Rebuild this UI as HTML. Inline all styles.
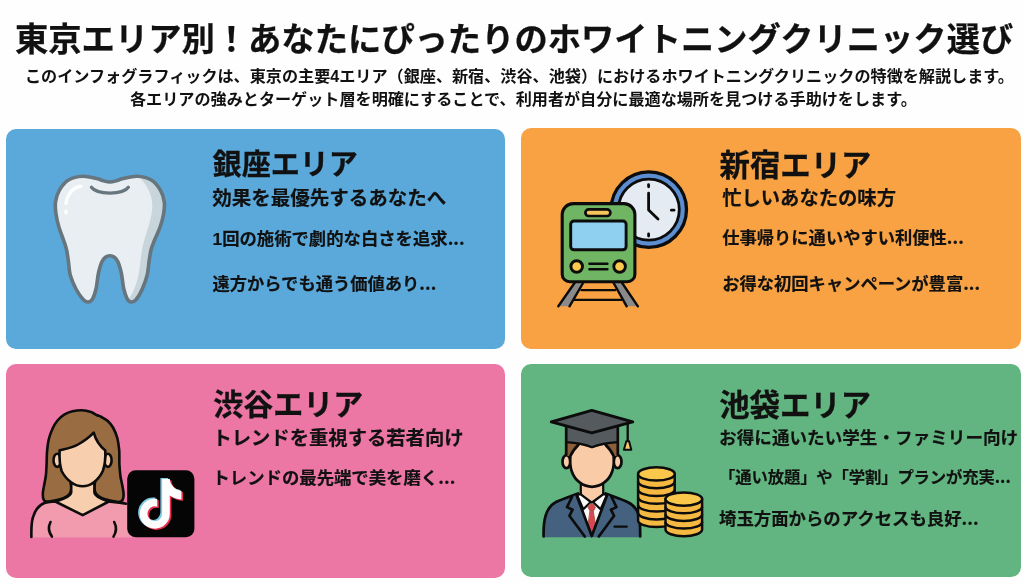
<!DOCTYPE html>
<html lang="ja">
<head>
<meta charset="utf-8">
<title>東京エリア別！あなたにぴったりのホワイトニングクリニック選び</title>
<style>
html,body{margin:0;padding:0;background:#fefefe;}
body{width:1024px;height:584px;background:#fefefe;overflow:hidden;position:relative;
  font-family:"Liberation Sans","Noto Sans CJK JP",sans-serif;color:#111;}
.txt{position:absolute;left:0;top:0;width:1024px;height:584px;will-change:transform;}
.abs{position:absolute;white-space:nowrap;line-height:1;}
h1{margin:0;font-weight:700;font-size:33.3px;left:15px;top:23px;-webkit-text-stroke:0.25px #111;}
.sub{font-weight:700;font-size:16.12px;}
.s1{left:25px;top:68px;}
.s2{left:130px;top:91.3px;}
.panel{position:absolute;border-radius:10px;}
.p1{left:6px;top:128.5px;width:499.4px;height:220.1px;background:#5aa9da;}
.p2{left:521px;top:128.1px;width:499.5px;height:220.5px;background:#f8a244;}
.p3{left:6px;top:364px;width:499.4px;height:213.5px;background:#ec77a4;}
.p4{left:521px;top:364px;width:499.5px;height:213.4px;background:#62b580;}
h2{margin:0;font-weight:700;font-size:29px;-webkit-text-stroke:0.3px #111;}
.tag{font-weight:700;font-size:19.5px;-webkit-text-stroke:0.18px #111;}
.ln{font-weight:700;font-size:17.5px;-webkit-text-stroke:0.18px #111;}
.d{font-family:"Noto Sans CJK JP",sans-serif;line-height:0;letter-spacing:0.1px;}
svg{position:absolute;left:0;top:0;}
</style>
</head>
<body>
<div class="txt">
<h1 class="abs">東京エリア別！あなたにぴったりのホワイトニングクリニック選び</h1>
<div class="abs sub s1">このインフォグラフィックは、東京の主要4エリア（銀座、新宿、渋谷、池袋）におけるホワイトニングクリニックの特徴を解説します。</div>
<div class="abs sub s2">各エリアの強みとターゲット層を明確にすることで、利用者が自分に最適な場所を見つける手助けをします。</div>

</div>
<div class="panel p1"></div>
<div class="panel p2"></div>
<div class="panel p3"></div>
<div class="panel p4"></div>

<svg width="1024" height="584" viewBox="0 0 1024 584" aria-hidden="true">
<defs>
<path id="toothp" d="M109.9 182.0C107.8 182.0 105.7 181.4 103.5 180.8C101.3 180.2 100.0 179.4 96.5 178.6C93.0 177.8 87.2 176.0 82.5 176.2C77.8 176.4 72.4 177.7 68.5 180C64.6 182.3 61.5 186.6 59.3 190.3C57.1 194.0 56.0 198.1 55.5 202C55.0 205.9 55.4 209.8 56.0 214C56.6 218.2 57.6 222.7 58.9 227C60.1 231.3 62.2 236.2 63.5 240C64.8 243.8 65.8 246.3 66.6 250C67.4 253.7 67.9 257.8 68.5 262C69.1 266.2 69.0 270.5 70.2 275C71.5 279.5 73.8 284.9 76.0 289C78.2 293.1 81.2 297.3 83.2 299.5C85.2 301.7 86.4 302.1 88.0 302.0C89.6 301.9 91.3 301.0 92.6 298.8C93.9 296.6 95.0 293.3 96 289C97.0 284.7 97.5 277.5 98.5 273C99.5 268.5 100.6 264.6 101.8 262C103.0 259.4 104.1 258.2 105.4 257.2C106.8 256.2 108.4 255.8 109.9 255.8C111.4 255.8 113.1 256.2 114.4 257.2C115.8 258.2 116.8 259.4 118.0 262C119.2 264.6 120.3 268.5 121.3 273C122.3 277.5 122.8 284.7 123.8 289C124.8 293.3 126.0 296.6 127.2 298.8C128.4 301.0 129.7 301.9 131.2 302.0C132.7 302.1 134.3 301.7 136.2 299.5C138.0 297.3 140.5 293.1 142.3 289C144.1 284.9 146.1 279.5 147.2 275C148.3 270.5 148.4 266.2 149.0 262C149.6 257.8 150.1 253.7 151.0 250C151.9 246.3 153.1 243.8 154.6 240C156.1 236.2 158.6 231.3 160.1 227C161.6 222.7 162.9 218.2 163.6 214C164.3 209.8 164.8 205.9 164.3 202C163.8 198.1 162.7 194.0 160.5 190.3C158.3 186.6 155.2 182.3 151.3 180C147.4 177.7 142.0 176.4 137.3 176.2C132.6 176.0 126.8 177.8 123.3 178.6C119.8 179.4 118.5 180.2 116.3 180.8C114.1 181.4 112.0 182.0 109.9 182.0Z"/>
<clipPath id="toothc"><use href="#toothp"/></clipPath>
</defs>
<g id="tooth">
<use href="#toothp" fill="#e8eef1"/>
<path clip-path="url(#toothc)" d="M135 174 C146 182 152.5 194 152.3 206 C152 220 146 232 143 245 C141 254 140.5 262 139.5 269 C138 279 135 291 128 300 L170 305 L170 170 Z" fill="#c8d6dc"/>
<path d="M81.1 186.2 C73 187 67.5 194 66 203.4" fill="none" stroke="#fdfefe" stroke-width="3.4" stroke-linecap="round"/>
<ellipse cx="66" cy="212" rx="1.9" ry="2.7" fill="#fdfefe"/>
<path d="M91.4 187.3 C97 195 122.8 195 128.4 187.3" fill="none" stroke="#66757e" stroke-width="3.2" stroke-linecap="round"/>
<use href="#toothp" fill="none" stroke="#66757e" stroke-width="3.6" stroke-linejoin="round"/>
</g>
</svg>

<svg width="1024" height="584" viewBox="0 0 1024 584" aria-hidden="true">
<g id="clock">
<circle cx="648.8" cy="209.6" r="37.7" fill="#5b8dd0" stroke="#0c0c0c" stroke-width="3.3"/>
<circle cx="648.8" cy="209.6" r="30.5" fill="#e4ebf2" stroke="#0c0c0c" stroke-width="2.8"/>
<g stroke="#0c0c0c" stroke-width="2.8" stroke-linecap="round" stroke-linejoin="round" fill="none">
<path d="M648.6 184.6V186.800"/>
<path d="M671.400 210.200H674"/>
<path d="M648.600 234V236"/>
<path d="M648.600 193.200V210L658 219.100"/>
</g>
</g>
<g id="rails" stroke="#0c0c0c" stroke-width="2.4" stroke-linejoin="round" stroke-linecap="round">
<path d="M581.300 290.100H615.400M574.400 299.900H621.300" fill="none" stroke-width="2.3"/>
<path d="M575.900 281L558.300 306.300H569.500L584.200 281Z" fill="#8a8a8a" stroke="none"/>
<path d="M612.500 281L626.700 306.300H637.900L620.800 281Z" fill="#8a8a8a" stroke="none"/>
<path d="M575.900 281L558.300 306.300M584.200 281L569.500 306.300M612.500 281L626.700 306.300M620.800 281L637.900 306.300" fill="none"/>
</g>
<g id="train" stroke="#0c0c0c" stroke-linejoin="round" stroke-linecap="round">
<path d="M573.2 203.6H623.9A11 11 0 0 1 634.9 214.6V274.2A7.5 7.5 0 0 1 627.4 281.7H569.7A7.5 7.5 0 0 1 562.2 274.2V214.6A11 11 0 0 1 573.2 203.6Z" fill="#6fb564" stroke-width="3.1"/>
<rect x="585.4" y="209.4" width="25" height="6.6" rx="3.3" fill="#f6c55b" stroke-width="2.7"/>
<rect x="570.7" y="221" width="55.4" height="28.800" rx="3.2" fill="#8fd0f0" stroke-width="2.9"/>
<circle cx="576.7" cy="266.5" r="5.8" fill="#fbc94c" stroke-width="2.9"/>
<circle cx="619.6" cy="266.5" r="5.8" fill="#fbc94c" stroke-width="2.9"/>
<path d="M589.4 263.8H607.4M589.4 269.3H607.4" fill="none" stroke-width="2.5"/>
</g>
</svg>

<svg width="1024" height="584" viewBox="0 0 1024 584" aria-hidden="true">
<g id="woman" stroke="#0c0c0c" stroke-width="2.6" stroke-linejoin="round" stroke-linecap="round">
<path id="hair" d="M82 410.2C78.9 410.1 75.5 410.6 72.5 411.3C69.5 412.0 66.7 413.1 64.2 414.6C61.7 416.1 59.4 418.2 57.5 420.5C55.6 422.8 54.1 425.2 52.6 428.5C51.1 431.8 49.5 436.1 48.6 440C47.7 443.9 47.3 448.0 47 452C46.7 456.0 46.8 460.0 46.6 464C46.4 468.0 46.3 472.2 45.8 476C45.3 479.8 44.3 484.0 43.8 487C43.3 490.0 42.8 491.9 42.8 494C42.8 496.1 43.0 498.2 43.6 499.5C44.2 500.8 44.4 501.5 46.5 501.6C48.6 501.7 53.1 500.9 56 500.3C58.9 499.7 61.8 499.1 64 498C66.2 496.9 68.3 495.7 69.5 494C70.7 492.3 71.0 492.0 71.3 488C71.6 484.0 67.4 473.0 71.3 470C75.2 467.0 90.6 467.0 94.4 470C98.2 473.0 94.1 484.0 94.4 488C94.7 492.0 95.0 492.3 96.2 494C97.4 495.7 99.2 496.9 101.5 498C103.8 499.1 107.1 499.9 110 500.6C112.9 501.3 116.9 502.1 119 502C121.1 501.9 121.8 501.2 122.6 500C123.4 498.8 123.6 496.7 123.6 494.5C123.6 492.3 123.1 490.1 122.6 487C122.1 483.9 120.9 479.8 120.4 476C119.9 472.2 119.6 468.3 119.4 464C119.2 459.7 119.6 454.3 119.2 450C118.8 445.7 118.3 441.8 117.3 438C116.3 434.2 114.6 430.4 113 427.5C111.4 424.6 109.4 422.6 107.5 420.8C105.6 419.1 103.3 418.0 101.5 417C99.7 416.0 98.2 415.8 96.5 415C94.8 414.2 93.4 412.8 91 412C88.6 411.2 85.1 410.3 82 410.2Z" fill="#9a6c42"/>
<path id="shirt" d="M31.4 537.4C31.2 528 31.5 522 32.9 517.5C35 510 39 505 44.5 503C49 501.6 52 502 55.3 501.5L82.7 515.2L108.8 501.5C114 502 120 502.5 126 503.8L132 506V537.4Z" fill="#f29bae" stroke="none"/>
<path d="M71.2 483V492C71.2 495.5 66 498.5 55.3 501.5L82.7 515.2L108.8 501.5C99 498.5 94.4 495.5 94.4 492V483Z" fill="#f8cfae"/>
<path d="M31.4 537C31.2 528 31.5 522 32.9 517.5C35 510 39 505 44.5 503C49 501.6 52 502 55.3 501.5M108.8 501.5C114 502 120 502.5 126 503.8" fill="none"/>
<path d="M50.5 522C48 527 48.6 532 51.9 536.6M114.2 522C116.8 527 116.4 532 113.5 536.6" fill="none"/>
<ellipse cx="57.2" cy="460.3" rx="3.7" ry="6.6" fill="#f8cfae"/>
<ellipse cx="107.9" cy="460.3" rx="3.7" ry="6.6" fill="#f8cfae"/>
<path id="face" d="M59.6 450.3C66 448.8 72 448 78 444.5C85 440.5 90 436.5 93.7 432.6C95.5 439 99 445.5 105.3 450.5C105.6 458 105 465 102.8 471C98.5 480.5 90 486.3 82.7 486.3C75 486.3 66.5 480.5 61.6 471C59.6 465 59.3 457 59.6 450.3Z" fill="#f8cfae"/>
</g>
<g id="tiktok">
<rect x="127.2" y="470.3" width="67.2" height="66.9" rx="8.5" fill="#050505"/>
<g id="note">
<defs><path id="notep" d="M162.100 479h7.700c0.400 6 5 10.800 11.600 11.800v8.600c-4.500-0.100-8.400-1.500-11.600-3.800v18.100a15 15 0 1 1-15-15c0.800 0 1.600 0.050 2.400 0.200v7.900a7.300 7.300 0 1 0 4.900 6.900z"/></defs>
<use href="#notep" fill="#7ecbe6" transform="translate(-1.7 -1.1)"/>
<use href="#notep" fill="#e8304f" transform="translate(1.6 1.3)"/>
<use href="#notep" fill="#fdfdfd"/>
</g>
</g>
</svg>

<svg width="1024" height="584" viewBox="0 0 1024 584" aria-hidden="true">
<g id="grad" stroke="#0c0c0c" stroke-width="2.7" stroke-linejoin="round" stroke-linecap="round">
<!-- suit -->
<path d="M543.6 537.2C543.4 528 544 521 545.7 515.5C548 508 551 504.500 556 502C561 499.500 570 496.500 578 493.500L591.800 500L605.500 493.500C613.500 496.500 622.500 499.500 627.500 502C632.500 504.500 637 508 638.600 515.500C640 521 640.300 528 640.200 537.200Z" fill="#456180" stroke="none"/>
<path d="M543.6 536.5C543.4 528 544 521 545.7 515.5C548 508 551 504.500 556 502C561 499.500 570 496.500 578 493.500M605.500 493.500C613.500 496.500 622.500 499.500 627.500 502C632.500 504.500 637 508 638.600 515.500C640 521 640.300 528 640.200 536.500" fill="none"/>
<!-- shirt -->
<path d="M576.5 494.5L591.8 536L607.5 494.5L591.8 503Z" fill="#fbfbfb" stroke="none"/>
<!-- neck -->
<path d="M580.8 484V494.6L591.8 502.6L603.2 494.6V484Z" fill="#f9cba7" stroke-width="2.2"/>
<!-- collar -->
<path d="M580.4 494.2L577 495L583.3 509.3L590.6 502Z" fill="#fbfbfb" stroke-width="2.2"/>
<path d="M603.4 494.2L607 495L600.6 509.300L593 502Z" fill="#fbfbfb" stroke-width="2.2"/>
<!-- tie -->
<path d="M590.4 510.2H593.1L595.6 525.5L591.75 533.4L588.1 525.5Z" fill="#d9465a" stroke="#a8552a" stroke-width="0.9"/>
<path d="M589.7 504.3H593.8L595.3 507.6L593.6 510.7H589.9L588.2 507.6Z" fill="#d9465a" stroke="#a8552a" stroke-width="0.9"/>
<!-- lapels -->
<path d="M572.2 496.500L567 507.100L572.600 509.700L569.400 515.800L585 536.9H591.8V535.5L576.5 495Z" fill="#456180" stroke="none"/>
<path d="M611.300 496.500L616.500 507.100L610.900 509.700L614.100 515.800L598.600 536.900H591.800V535.500L607.2 495Z" fill="#456180" stroke="none"/>
<path d="M572.200 496.500L567 507.100L572.600 509.700L569.400 515.800L584.800 536.500M611.300 496.500L616.500 507.100L610.900 509.700L614.100 515.800L598.800 536.500M576.600 495.300L591.750 536L607.100 495.300" fill="none"/>
<path d="M614.600 526.600H626.600" fill="none" stroke-width="2.400"/>
<!-- ears -->
<ellipse cx="566.4" cy="461.7" rx="3.9" ry="6.5" fill="#f9cba7"/>
<ellipse cx="617.6" cy="461.7" rx="3.9" ry="6.5" fill="#f9cba7"/>
<!-- hair -->
<path d="M566.2 440H617.800V456H566.2Z" fill="#8b5e3c" stroke="none"/>
<!-- face -->
<path d="M578.2 444.5C575.8 447.500 572.300 451.500 570.400 456C569.900 461 570 466.500 571.800 471.500C575 481 583.500 486.800 592 486.800C600.500 486.800 609 481 612.200 471.500C614 466.500 614.100 461 613.600 456C611.700 451.500 608.200 447.500 605.800 444.500L592 448Z" fill="#f9cba7" stroke="none"/>
<path d="M578.500 444.800C575.800 447.500 572.300 451.500 570.400 456C569.900 461 570 466.500 571.800 471.500C575 481 583.500 486.800 592 486.800C600.500 486.800 609 481 612.200 471.500C614 466.500 614.100 461 613.600 456C611.700 451.500 608.200 447.500 605.500 444.800" fill="none"/>
<!-- cap base -->
<path d="M566.200 427V442.200C575 442.800 584 444 592 447.300C600 444 609 442.800 617.800 442.200V427Z" fill="#555a5e" stroke="none"/>
<path d="M566.200 427V455M617.800 427V455" fill="none"/>
<path d="M566.200 442.200C575 442.800 584 444 592 447.300C600 444 609 442.800 617.800 442.200" fill="none" stroke-width="2.2"/>
<!-- cap board -->
<path d="M551.300 421.900L591.800 410.400L632.800 421.900L591.800 432.800Z" fill="#555a5e" stroke-width="2.9"/>
<!-- tassel -->
<path d="M627.700 423.500V441" fill="none" stroke-width="2.3"/>
<path d="M626.300 441.200H629.100L631.300 449.800H623.900Z" fill="#f4cd6a" stroke-width="2"/>
</g>
<g id="coins" stroke="#0c0c0c" stroke-width="2.5" stroke-linejoin="round">
<path d="M638.1 473.9V520.5A18.3 6.6 0 0 0 674.7 520.5V473.9Z" fill="#f5b942"/>
<path d="M638.1 481.6A18.3 6.6 0 0 0 674.7 481.6" fill="none"/>
<path d="M638.1 489.4A18.3 6.6 0 0 0 674.7 489.4" fill="none"/>
<path d="M638.1 497.2A18.3 6.6 0 0 0 674.7 497.2" fill="none"/>
<path d="M638.1 505.0A18.3 6.6 0 0 0 674.7 505.0" fill="none"/>
<path d="M638.1 512.8A18.3 6.6 0 0 0 674.7 512.8" fill="none"/>
<ellipse cx="656.4" cy="473.9" rx="18.3" ry="6.6" fill="#f9c84b"/>
<path d="M665.5 499.1V529.6A18.3 6.6 0 0 0 702.1 529.6V499.1Z" fill="#f5b942"/>
<path d="M665.5 506.7A18.3 6.6 0 0 0 702.1 506.7" fill="none"/>
<path d="M665.5 514.3A18.3 6.6 0 0 0 702.1 514.3" fill="none"/>
<path d="M665.5 521.9A18.3 6.6 0 0 0 702.1 521.9" fill="none"/>
<ellipse cx="683.8" cy="499.1" rx="18.3" ry="6.6" fill="#f9c84b"/>
</g>
</svg>

<!--ICONS-->
<div class="txt">

<h2 class="abs" style="left:212.6px;top:151.4px;font-size:29.05px;">銀座エリア</h2>
<div class="abs tag" style="left:212.3px;top:189px;">効果を最優先するあなたへ</div>
<div class="abs ln" style="left:212.5px;top:230.6px;font-size:17.35px;">1回の施術で劇的な白さを追求<span class="d">...</span></div>
<div class="abs ln" style="left:212.5px;top:276.2px;font-size:17.3px;">遠方からでも通う価値あり<span class="d">...</span></div>

<h2 class="abs" style="left:719.5px;top:150.3px;font-size:30.4px;">新宿エリア</h2>
<div class="abs tag" style="left:722.2px;top:188.5px;font-size:19.32px;">忙しいあなたの味方</div>
<div class="abs ln" style="left:722.3px;top:230.4px;font-size:17.28px;">仕事帰りに通いやすい利便性<span class="d">...</span></div>
<div class="abs ln" style="left:722.3px;top:276.4px;font-size:17.28px;">お得な初回キャンペーンが豊富<span class="d">...</span></div>

<h2 class="abs" style="left:213.2px;top:389.8px;font-size:30px;">渋谷エリア</h2>
<div class="abs tag" style="left:212.5px;top:429.1px;font-size:19.32px;">トレンドを重視する若者向け</div>
<div class="abs ln" style="left:212.5px;top:470px;font-size:17.38px;">トレンドの最先端で美を磨く<span class="d">...</span></div>

<h2 class="abs" style="left:719.2px;top:389.8px;font-size:30.4px;">池袋エリア</h2>
<div class="abs tag" style="left:719.1px;top:430px;font-size:17.6px;">お得に通いたい学生・ファミリー向け</div>
<div class="abs ln" style="left:719.1px;top:469.2px;font-size:16.4px;letter-spacing:-0.18px;">「通い放題」や「学割」プランが充実<span class="d">...</span></div>
<div class="abs ln" style="left:719px;top:511.3px;font-size:17.4px;">埼玉方面からのアクセスも良好<span class="d">...</span></div>
</div>
</body>
</html>
